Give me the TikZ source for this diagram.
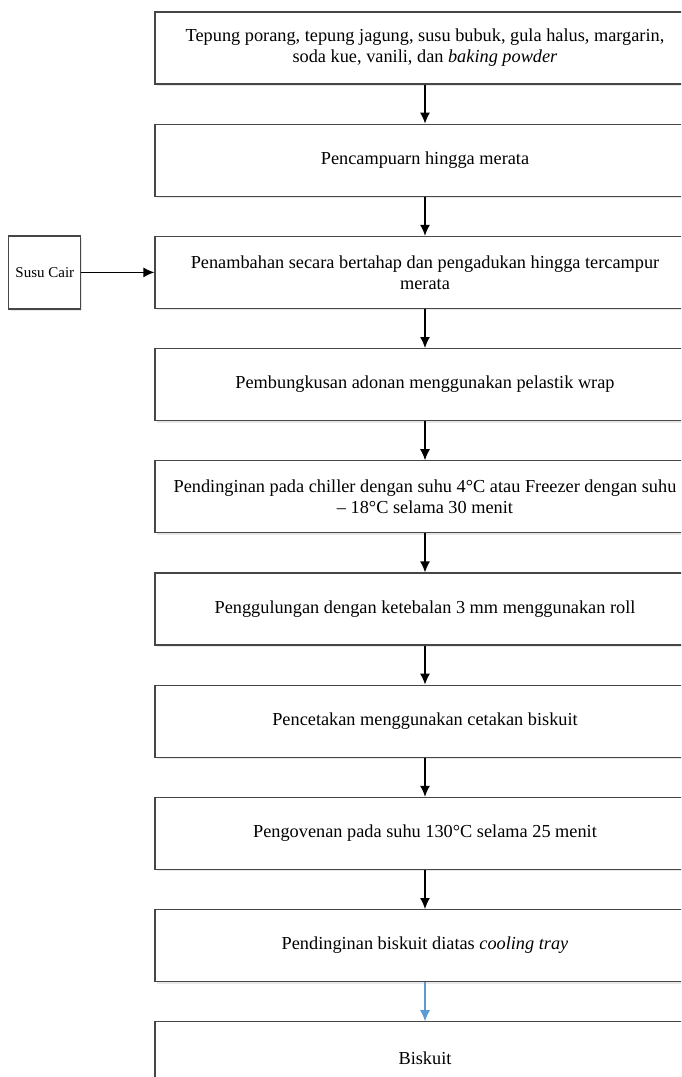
\documentclass[tikz,border=0pt]{standalone}
\usepackage{fontspec}
\setmainfont{Liberation Serif}
\usepackage{tikz}
\usetikzlibrary{positioning}
\usetikzlibrary{arrows.meta,shapes}
\usetikzlibrary{shadows}
\definecolor{boxline}{RGB}{70,70,70}
\definecolor{biru}{RGB}{91,155,213}

\begin{document}
\begin{tikzpicture}[
    node distance=39pt,
    proses/.style={draw=boxline,line width=1.2pt,fill=white,minimum width=540pt,
      minimum height=72pt,align=center,inner sep=2pt,
      drop shadow={opacity=0.18,shadow xshift=1.5pt,shadow yshift=-2pt}},
    masuk/.style={proses,minimum width=72pt,minimum height=73pt,inner sep=0pt,
      font=\fontsize{15}{18}\selectfont},
    panah/.style={-{Latex[length=11pt,width=10pt]},line width=1.2pt,black},
    every node/.style={font=\fontsize{18.3}{21}\selectfont}]

  \useasboundingbox (0,0) rectangle (681pt,-1077pt);
  \clip (0,0) rectangle (681pt,-1077pt);
  \fill[white] (0,0) rectangle (681pt,-1077pt);

  \node[proses] (bahan) at (425pt,-48pt) {Tepung porang, tepung jagung, susu bubuk, gula halus, margarin,\\ soda kue, vanili, dan \textit{baking powder}};
  \node[proses,below=of bahan] (campur) {Pencampuarn hingga merata};
  \node[proses,below=of campur] (tambah) {Penambahan secara bertahap dan pengadukan hingga tercampur\\ merata};
  \node[proses,below=of tambah] (bungkus) {Pembungkusan adonan menggunakan pelastik wrap};
  \node[proses,below=of bungkus] (dingin) {Pendinginan pada chiller dengan suhu 4°C atau Freezer dengan suhu\\ – 18°C selama 30 menit};
  \node[proses,below=of dingin] (gulung) {Penggulungan dengan ketebalan 3 mm menggunakan roll};
  \node[proses,below=of gulung] (cetak) {Pencetakan menggunakan cetakan biskuit};
  \node[proses,below=of cetak] (oven) {Pengovenan pada suhu 130°C selama 25 menit};
  \node[proses,below=of oven] (tray) {Pendinginan biskuit diatas \textit{cooling tray}};
  \node[proses,below=of tray] (biskuit) {Biskuit};

  \node[masuk,left=73pt of tambah] (susu) {Susu Cair};

  \draw[panah] (bahan) -- (campur);
  \draw[panah] (campur) -- (tambah);
  \draw[panah] (tambah) -- (bungkus);
  \draw[panah] (bungkus) -- (dingin);
  \draw[panah] (dingin) -- (gulung);
  \draw[panah] (gulung) -- (cetak);
  \draw[panah] (cetak) -- (oven);
  \draw[panah] (oven) -- (tray);
  \draw[panah,biru] (tray) -- (biskuit);
  \draw[panah] (susu) -- (tambah);

\end{tikzpicture}
\end{document}
